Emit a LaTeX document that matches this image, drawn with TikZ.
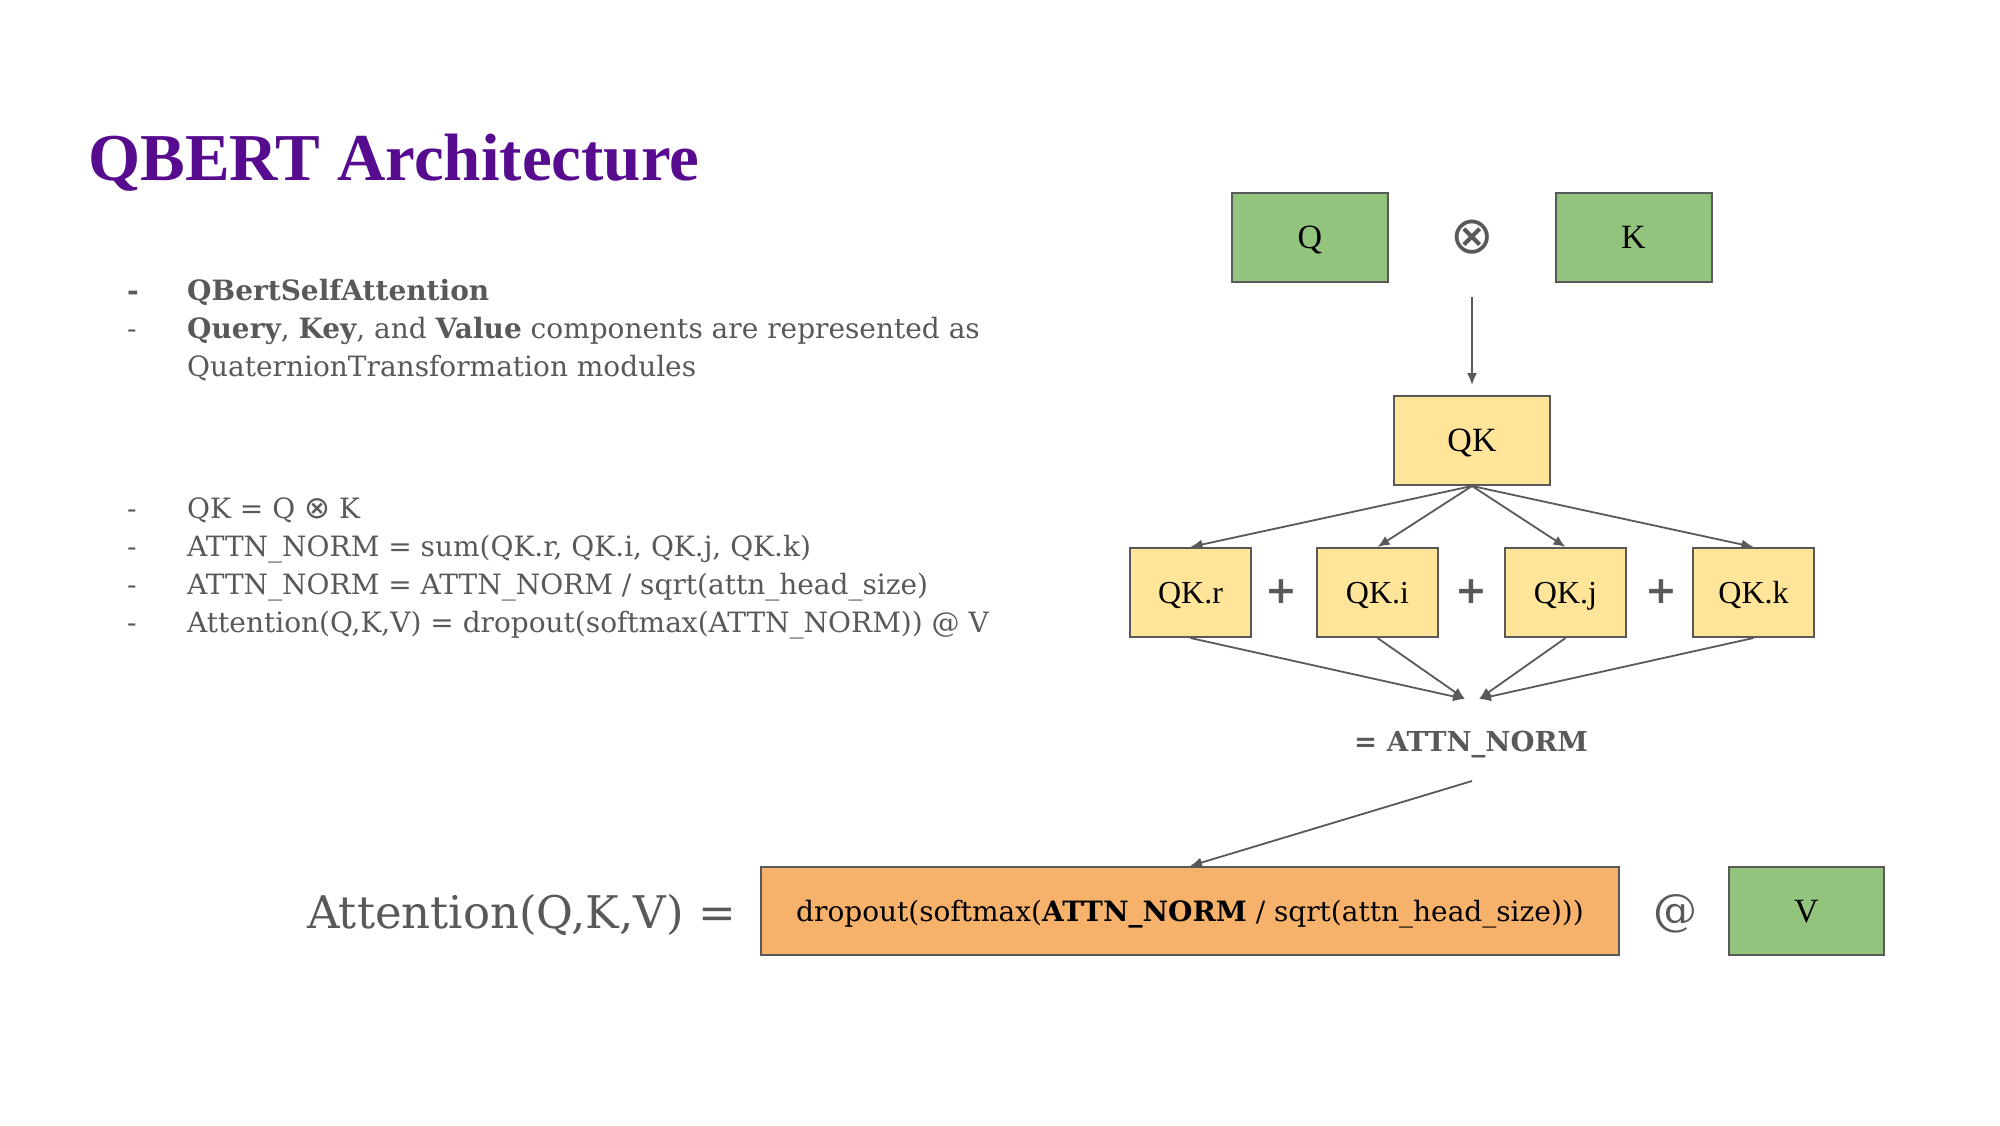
\documentclass[tikz,border=0pt]{standalone}
\usepackage{fontspec}
\setmainfont{DejaVu Serif}
\newfontfamily\headfont{Liberation Serif}
\newfontfamily\boxfont{Liberation Serif}
\newfontfamily\symfont{DejaVu Sans}
\usetikzlibrary{arrows.meta}

\definecolor{ink}{HTML}{595959}
\definecolor{titlepurple}{HTML}{570C8F}
\definecolor{qkgreen}{HTML}{93C47D}
\definecolor{qkyellow}{HTML}{FFE599}
\definecolor{qkorange}{HTML}{F6B26B}

\newcommand{\fsz}[1]{\fontsize{#1pt}{#1pt}\selectfont}

\tikzset{
  box/.style={draw=ink, line width=2pt, inner sep=0pt,
    minimum width=156pt, minimum height=89pt,
    text height=22.5pt, text depth=0pt,
    font=\boxfont\fsz{34}},
  greenbox/.style={box, fill=qkgreen},
  qkbox/.style={box, fill=qkyellow},
  partbox/.style={box, fill=qkyellow, minimum width=121pt,
    text height=21.2pt, font=\boxfont\fsz{32}},
  plus/.style={text=ink, font=\symfont\bfseries\fsz{38}, inner sep=0pt},
  arr/.style={draw=ink, line width=1.8pt, -{Latex[length=12pt,width=10pt]}},
  dashmark/.style={anchor=base west, text=ink, inner sep=0pt, font=\fsz{28}},
  line/.style={anchor=base west, text=ink, inner sep=0pt, font=\fsz{28}},
}

\begin{document}
\begin{tikzpicture}[x=1pt, y=-1pt]
  \fill[white] (0,0) rectangle (2000,1125);
  \useasboundingbox (0,0) rectangle (2000,1125);

  % heading
  \node[anchor=base west, inner sep=0pt, text=titlepurple,
        font=\headfont\bfseries\fsz{67}] (title) at (88,180) {QBERT Architecture};

  % first list
  \node[dashmark, font=\bfseries\fsz{28}] (d1) at (127,300) {-};
  \node[line, font=\bfseries\fsz{28}] (l1) at (187,300) {QBertSelfAttention};
  \node[dashmark] (d2) at (127,338) {-};
  \node[line] (l2) at (187,338) {\textbf{Query}, \textbf{Key}, and \textbf{Value} components are represented as};
  \node[line] (l3) at (187,376) {QuaternionTransformation modules};

  % second list
  \node[dashmark] (d4) at (127,518) {-};
  \node[line] (l4) at (187,518) {QK = Q {\symfont\fsz{31}⊗} K};
  \node[dashmark] (d5) at (127,556) {-};
  \node[line] (l5) at (187,556) {ATTN\_NORM = sum(QK.r, QK.i, QK.j, QK.k)};
  \node[dashmark] (d6) at (127,594) {-};
  \node[line] (l6) at (187,594) {ATTN\_NORM = ATTN\_NORM / sqrt(attn\_head\_size)};
  \node[dashmark] (d7) at (127,632) {-};
  \node[line] (l7) at (187,632) {Attention(Q,K,V) = dropout(softmax(ATTN\_NORM)) @ V};

  % quaternion product of query and key
  \node[greenbox] (q) at (1310,237.5) {Q};
  \node[greenbox] (k) at (1633.5,237.5) {K};
  \node[text=ink, font=\symfont\fsz{52}, inner sep=0pt] (otimes) at (1472,237) {⊗};
  \coordinate (qkin) at (1472,297);
  \node[qkbox] (qk) at (1472,440.5) {QK};
  \draw[arr, shorten >=10pt] (qkin) -- (qk.north);

  % the four components
  \node[partbox] (qkr) at (1190.5,592.5) {QK.r};
  \node[partbox] (qki) at (1377.5,592.5) {QK.i};
  \node[partbox] (qkj) at (1565.5,592.5) {QK.j};
  \node[partbox] (qkk) at (1753.5,592.5) {QK.k};
  \node[plus] (p1) at (1281,592) {+};
  \node[plus] (p2) at (1471,592) {+};
  \node[plus] (p3) at (1661,592) {+};

  \foreach \t in {qkr,qki,qkj,qkk}
    \draw[arr] (qk.south) -- (\t.north);

  % summed into the norm
  \coordinate (sumL) at (1465,699);
  \coordinate (sumR) at (1479,699);
  \draw[arr] (qkr.south) -- (sumL);
  \draw[arr] (qki.south) -- (sumL);
  \draw[arr] (qkj.south) -- (sumR);
  \draw[arr] (qkk.south) -- (sumR);

  \node[anchor=base, text=ink, inner sep=0pt, font=\bfseries\fsz{27.5}] (norm) at (1471,751) {= ATTN\_NORM};
  \coordinate (normout) at (1472,781);

  % final attention expression
  \node[anchor=base west, text=ink, inner sep=0pt, font=\fsz{45}] (attn) at (307,928) {Attention(Q,K,V) =};
  \node[box, fill=qkorange, minimum width=858pt, minimum height=88pt,
        text height=20.4pt, font=\fsz{28}, text=black]
    (drop) at (1190,911) {dropout(softmax(\textbf{ATTN\_NORM} / sqrt(attn\_head\_size)))};
  \node[text=ink, inner sep=0pt, font=\fsz{44}] (at) at (1675,914) {@};
  \node[greenbox, minimum width=155pt, minimum height=88pt] (v) at (1806.5,911) {V};

  \draw[arr] (normout) -- (drop.north);
\end{tikzpicture}
\end{document}
